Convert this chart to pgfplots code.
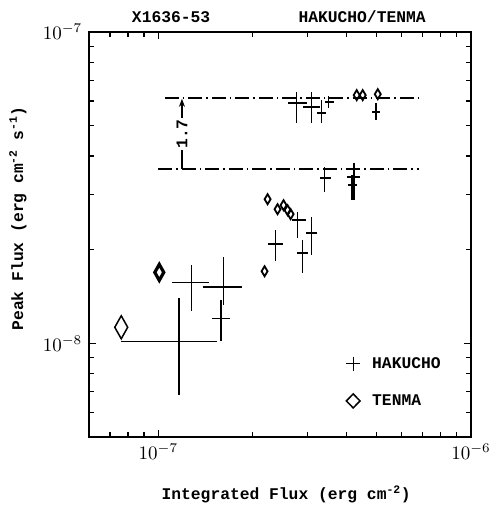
\documentclass[border=0pt]{standalone}
\usepackage{pgfplots}
\pgfplotsset{compat=1.18}
\usepackage{fontspec}
\setmonofont{Liberation Mono}
\usetikzlibrary{arrows.meta}
\newcommand{\lbl}{\fontsize{16.3}{19}\selectfont\ttfamily\bfseries}
\begin{document}
\begin{tikzpicture}
\begin{axis}[
 xmode=log, ymode=log,
 scale only axis, width=382pt, height=405pt,
 xmin=6e-8, xmax=1e-6, ymin=5e-9, ymax=1e-7,
 axis line style={line width=1.5pt},
 tick style={line width=1.2pt, black},
 major tick length=7pt, minor tick length=5pt,
 tick align=inside,
 tick label style={scale=1.9},
 xlabel={Integrated Flux (erg cm\textsuperscript{-2})},
 ylabel={Peak Flux (erg cm\textsuperscript{-2} s\textsuperscript{-1})},
 label style={font=\lbl},
 xlabel style={at={(axis description cs:0.516,-0.141)}, anchor=center},
 ylabel style={at={(axis description cs:-0.186,0.54)}, anchor=center},
 legend style={draw=none, fill=none, font=\lbl, at={(axis description cs:0.665,0.207)}, anchor=north west, row sep=21pt},
 legend cell align=left,
 clip=false,
]
% reference dash-dot lines
\addplot[forget plot, black, line width=1.2pt, dash pattern=on 14pt off 4pt on 1.5pt off 4pt] coordinates {(1.05e-7,6.14e-8) (6.9e-7,6.14e-8)};
\addplot[forget plot, black, line width=1.2pt, dash pattern=on 14pt off 4pt on 1.5pt off 4pt] coordinates {(1.0e-7,3.63e-8) (6.8e-7,3.63e-8)};
% HAKUCHO points with error bars
\addplot[forget plot, draw=none, mark=none,
 error bars/.cd, x dir=both, y dir=both, x explicit, y explicit, error mark=none,
 error bar style={draw=black, solid, line width=1.6pt}]
 table[x=x, y=y, x error plus=exp, x error minus=exm, y error plus=eyp, y error minus=eym] {
 x y exp exm eyp eym
 1.166e-7 1.015e-8 0.379e-7 0.406e-7 0.381e-8 0.334e-8
 1.277e-7 1.57e-8 0.179e-7 0.168e-7 0.21e-8 0.303e-8
 1.615e-7 1.514e-8 0.243e-7 0.221e-7 0.376e-8 0.189e-8
 1.59e-7 1.203e-8 0.11e-7 0.10e-7 0.171e-8 0.183e-8
 2.371e-7 2.081e-8 0.125e-7 0.135e-7 0.227e-8 0.246e-8
 2.790e-7 2.485e-8 0.169e-7 0.121e-7 0.152e-8 0.309e-8
 3.093e-7 2.258e-8 0.116e-7 0.134e-7 0.283e-8 0.339e-8
 2.893e-7 1.948e-8 0.11e-7 0.124e-7 0.196e-8 0.268e-8
 3.405e-7 3.393e-8 0.153e-7 0.124e-7 0.288e-8 0.335e-8
 4.217e-7 3.419e-8 0.19e-7 0.212e-7 0.373e-8 0.535e-8
 4.155e-7 3.221e-8 0.155e-7 0.12e-7 0.249e-8 0.337e-8
 2.769e-7 5.909e-8 0.212e-7 0.178e-7 0.503e-8 0.813e-8
 3.093e-7 5.736e-8 0.188e-7 0.2e-7 0.676e-8 0.64e-8
 3.330e-7 5.487e-8 0.1e-7 0.121e-7 0.556e-8 0.391e-8
 3.507e-7 5.953e-8 0.131e-7 0.102e-7 0.27e-8 0.259e-8
 4.96e-7 5.529e-8 0.148e-7 0.144e-7 0.38e-8 0.317e-8
 };
% TENMA small diamonds
\addplot[forget plot, only marks, black, mark=diamond, mark size=5pt, mark options={line width=1.8pt, xscale=0.8, solid}] coordinates {
 (2.236e-7,2.904e-8) (2.187e-7,1.704e-8) (2.406e-7,2.697e-8) (2.515e-7,2.778e-8)
 (2.591e-7,2.677e-8) (2.649e-7,2.6e-8) (4.31e-7,6.27e-8) (4.505e-7,6.27e-8) (5.034e-7,6.317e-8)
};
\addplot[forget plot, only marks, black, mark=diamond, mark size=8pt, mark options={line width=3.2pt, xscale=0.75, solid}] coordinates {
 (1.007e-7,1.69e-8)
};
\addplot[forget plot, only marks, black, mark=diamond, mark size=11.5pt, mark options={line width=1.5pt, xscale=0.75, solid}] coordinates {
 (7.61e-8,1.126e-8)
};
% legend
\addlegendimage{only marks, black, mark=+, mark size=7pt, mark options={line width=1.4pt}}
\addlegendentry{\hspace*{10pt}HAKUCHO}
\addlegendimage{only marks, black, mark=diamond, mark size=7pt, mark options={line width=1.5pt, xscale=1.3}}
\addlegendentry{\hspace*{10pt}TENMA}
% annotation
\draw[line width=1.2pt, -{Stealth[length=8pt,width=6pt]}] (axis cs:1.19e-7,3.63e-8) -- (axis cs:1.19e-7,6.1e-8) node[midway, fill=white, inner sep=1pt, rotate=90, font=\lbl] {1.7};
\node[font=\lbl] at (axis description cs:0.215,1.037) {X1636-53};
\node[font=\lbl] at (axis description cs:0.715,1.037) {HAKUCHO/TENMA};
\end{axis}
\pgfresetboundingbox
\path (current axis.south west) ++(-89pt,-71pt) coordinate (bbsw);
\path (current axis.north east) ++(24pt,32pt) coordinate (bbne);
\path (bbsw) rectangle (bbne);
\end{tikzpicture}
\end{document}
